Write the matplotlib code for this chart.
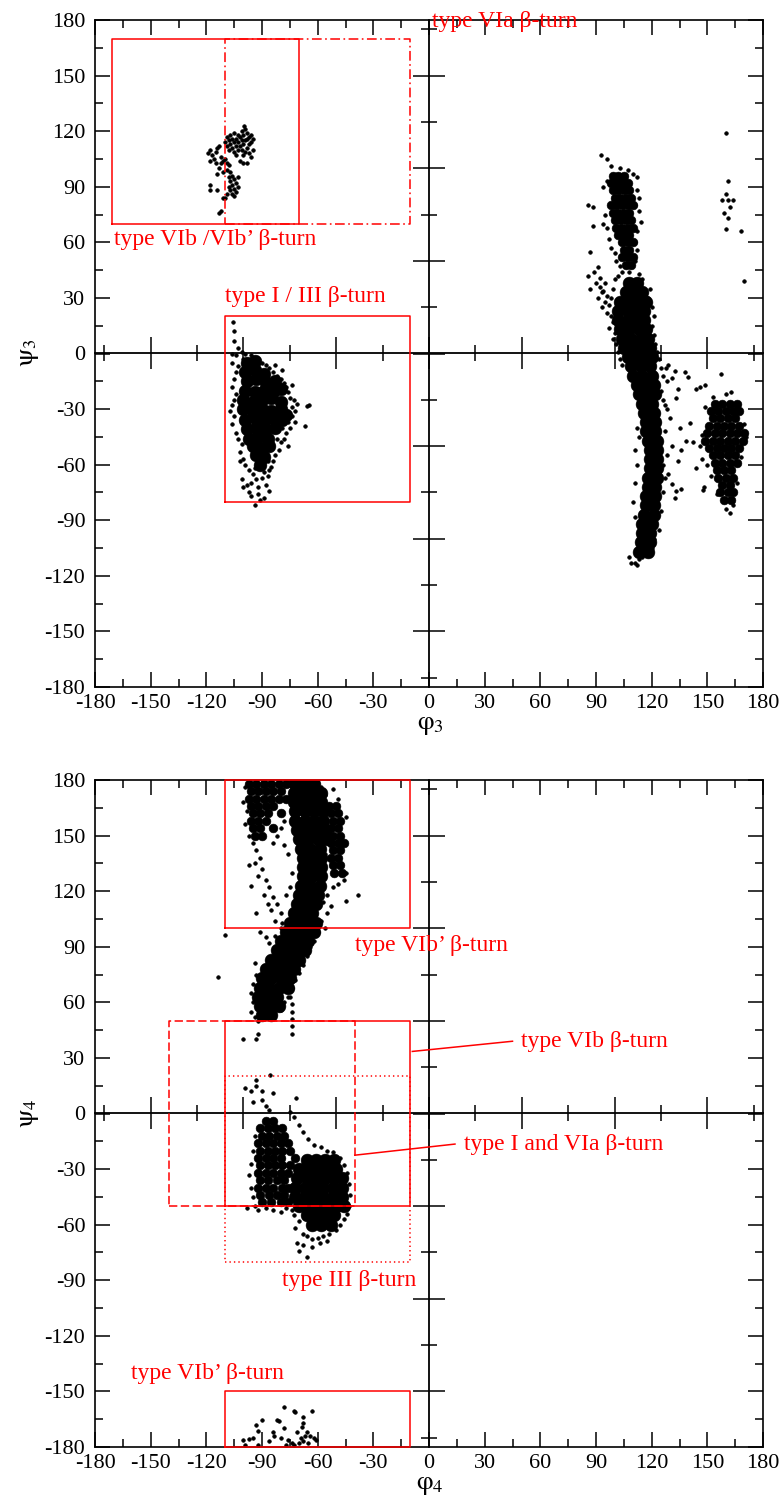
import numpy as np
import matplotlib
matplotlib.use("Agg")
import matplotlib.pyplot as plt
from matplotlib.ticker import MultipleLocator, NullFormatter

plt.rcParams['font.family'] = ['Liberation Serif', 'DejaVu Serif']
plt.rcParams['mathtext.fontset'] = 'custom'
plt.rcParams['mathtext.rm'] = 'STIXGeneral'
plt.rcParams['mathtext.it'] = 'STIXGeneral'
plt.rcParams['axes.unicode_minus'] = False
plt.rcParams['lines.scale_dashes'] = False

# ---------------- panel 1 : phi3 / psi3 ----------------
# VIb region, sparse dots
p1_vib = [(-109,117),(-107,118),(-105,119),(-103,118),(-101,120),(-99,121),(-99.5,123),(-98,119),(-97,117),(-96,118),
          (-95,116),(-110,114),(-108,115),(-106,116),(-104,116),(-102,117),(-100,118),(-98,116),(-96,114),(-109,112),
          (-107,113),(-105,114),(-103,114),(-101,115),(-99,115),(-97,113),(-108,110),(-106,111),(-104,112),(-102,112),
          (-100,113),(-98,111),(-105,109),(-103,110),(-101,110),(-99,109),(-104,107),(-100,107),(-118,110),(-119,108),
          (-117,107),(-115,109),(-114,111),(-113,112),(-116,105),(-118,104),(-115,103),(-112,106),(-112,103),(-113,100),
          (-111,104),(-110,105),(-109,103),(-108,102),(-114,97),(-111,98),(-97,108),(-96,106),(-100,103),(-98,103),
          (-102,104),(-95,110),(-109,99),(-107,98),(-106,96),(-108,95),(-105,94),(-107,93),(-104,92),(-106,91),
          (-108,90),(-105,89),(-107,88),(-104,87),(-106,86),(-109,86),(-110,84),(-111,84),(-105,85),(-103,90),
          (-103,95),(-118,91),(-118,88),(-114,88),(-113,76),(-112,77)]

# type I / III region
p1_i_core = [(-98,-5),(-94,-4),(-99,-10),(-94,-9),(-89,-11),(-98,-15),(-93,-14),(-88,-16),(-83,-15),
             (-99,-20),(-94,-21),(-89,-20),(-84,-21),(-80,-19),(-100,-25),(-95,-26),(-90,-25),(-85,-24),(-80,-26),
             (-100,-30),(-95,-31),(-90,-30),(-85,-31),(-80,-30),(-77,-33),(-99,-36),(-94,-35),(-89,-36),(-84,-35),
             (-79,-36),(-98,-41),(-93,-40),(-88,-41),(-83,-40),(-97,-46),(-92,-45),(-87,-46),(-95,-50),(-90,-51),
             (-86,-50),(-93,-55),(-89,-56),(-91,-60)]
p1_i_dots = [(-105.7,17),(-105.3,12),(-105.3,6.6),(-103,3),(-106,0),(-104,-1),(-101,1),(-99,0),(-100,-3),(-106,-5),
             (-96,-1),(-92,-3),(-90,-5),(-88,-6),(-86,-8),(-84,-10),(-82,-12),(-80,-14),(-78,-16),(-77,-18),
             (-76,-21),(-75,-24),(-73,-25),(-71,-27),(-74,-29),(-72,-31),(-64.7,-28),(-66,-28.5),(-74,-34),(-72,-37),
             (-67,-39),(-75,-40),(-77,-43),(-78,-46),(-80,-48),(-76,-50),(-81,-52),(-83,-55),(-84,-58),(-85,-61),
             (-86,-63),(-87,-66),(-89,-64),(-90,-67),(-93,-68),(-95,-65),(-96,-70),(-98,-71),(-100,-72),(-101,-68),
             (-92,-72),(-92,-76),(-89,-78),(-94,-82),(-86,-74),(-94,-62),(-97,-63),(-100,-57),(-102,-53),(-101,-49),
             (-103,-46),(-104,-43),(-106,-38),(-105,-34),(-107,-31),(-106,-28),(-105,-25),(-104,-22),(-106,-18),(-105,-14),
             (-104,-10),(-103,-7),(-97,-75),(-96,-77),(-91,-79),(-88,-71),(-87,-58),(-99,-60),(-102,-58),(-82,-46),
             (-79,-40),(-76,-37),(-74,-17),(-79,-9),(-83,-6)]

# right hand (positive phi) band
p1_via_mid = [(99,96),(102,96),(105,96),(98,92),(101,92),(104,92),(107,92),(99,88),(102,88),(105,88),(108,88),
              (100,84),(103,84),(106,84),(109,84),(98,80),(101,80),(104,80),(107,80),(110,80),(99,76),(102,76),
              (105,76),(108,76),(100,72),(103,72),(106,72),(109,72),(101,68),(104,68),(107,68),(110,68),(102,64),
              (105,64),(108,64),(104,60),(107,60),(110,60),(105,56),(108,56),(104,52),(107,52),(110,52),(106,48),(109,48)]
p1_band_core = [(108,38),(112,38),(106,33),(111,33),(115,33),(103,28),(108,28),(113,28),(117,28),(102,23),(107,23),
                (112,23),(116,23),(102,18),(107,18),(112,18),(116,18),(103,13),(108,13),(113,13),(117,13),(104,8),
                (109,8),(114,8),(118,8),(105,3),(110,3),(115,3),(119,3),(107,-2),(112,-2),(117,-2),(120,-2),
                (109,-7),(114,-7),(119,-7),(110,-12),(115,-12),(120,-12),(112,-17),(117,-17),(121,-17),(113,-22),
                (118,-22),(122,-22),(115,-27),(120,-27),(116,-32),(121,-32),(117,-37),(122,-37),(117,-42),(122,-42),
                (118,-47),(123,-47),(119,-52),(123,-52),(119,-57),(123,-57),(119,-62),(123,-62),(118,-67),(123,-67),
                (118,-72),(122,-72),(117,-77),(122,-77),(117,-82),(121,-82),(116,-87),(121,-87),(115,-92),(120,-92),
                (115,-97),(119,-97),(114,-102),(119,-102),(113,-107),(118,-107)]
p1_band_dots = [(92.7,106.9),(95.7,105),(98,101),(103,100),(107,99),(110,97),(112,95),(96,93),(94,90),(112,88),
                (113,84),(111,80),(85.7,79.9),(88.4,79),(88.4,69),(93.8,70),(86.6,55),(85.7,42),(91,46.7),(95,75),
                (96,68),(97,62),(113,77),(114,71),(112,66),(111,60),(98,57),(100,54),(101,50),(103,47),
                (112,56),(111,50),(89,44),(92,41),(95,38),(87,35),(93,33),(96,31),(90,38),(92,36),
                (94,34),(91,30),(95,28),(97,26),(93,25),(96,22),(98,20),(99,17),(97,14),(100,11),
                (99,8),(101,5),(102,1),(103,-3),(104,-6),(98,30),(99,35),(100,40),(102,42),(104,44),
                (108,44),(113,43),(115,40),(119,35),(118,30),(120,25),(121,20),(120,15),(121,10),(122,5),
                (123,1),(124,-3),(125,-8),(126,-12),(127.9,-7.6),(129,-6),(132.4,-9.3),(134.2,-18.9),(137.8,-9.9),(139.6,-12.5),
                (144,-18.9),(145.9,-18.1),(149,-17),(140.5,-37.7),(142.3,-47.5),(138.7,-47),(144,-62),(147.7,-73.6),(148,-72),(130.7,-70.6),
                (133.3,-74.2),(136,-73),(132.5,-77.8),(128,-30),(130,-35),(127,-42),(131,-50),(128,-55),(126,-60),(129,-65),
                (127,-28),(125,-20),(126,-25),(128,-15),(131,-13),(133,-24),(135,-40),(136,-52),(134,-58),(108,-110),
                (109,-113),(111,-113),(113,-111),(112,-114),(115,-110),(117,-108),(120,-105),(121,-100),(111,-88),(110,-80),
                (111,-70),(112,-60),(111,-52),(113,-45),(112,-40),(124,-95),(125,-85),(126,-75),(127,-67)]
p1_right_mid = [(154,-27),(158,-27),(162,-27),(166,-27),(152,-31),(156,-31),(160,-31),(164,-31),(167,-31),(153,-35),
                (157,-35),(161,-35),(165,-35),(151,-39),(155,-39),(159,-39),(163,-39),(167,-39),(150,-43),(154,-43),
                (158,-43),(162,-43),(166,-43),(170,-43),(149,-47),(153,-47),(157,-47),(161,-47),(165,-47),(169,-47),
                (151,-51),(155,-51),(159,-51),(163,-51),(167,-51),(153,-55),(157,-55),(161,-55),(165,-55),(154,-59),
                (158,-59),(162,-59),(166,-59),(155,-63),(159,-63),(163,-63),(156,-67),(160,-67),(164,-67),(158,-71),
                (162,-71),(157,-75),(161,-75),(164,-75),(159,-79),(163,-79)]
p1_right_dots = [(157.2,-10.8),(153,-23.5),(163,-20.8),(160,-22),(148.6,-28.8),(147,-44),(146,-50),(171,-45),(170,-38),
                 (168,-56),(150,-60),(152,-66),(155,-76),(166,-70),(162,-86),(160,-84),(164,-82),(147,-57),
                 (160,119),(161,93),(160,86),(158,83),(161,83),(164,83),(162,79),(159,76),(161,73),(160,67),
                 (168,66),(170,39)]

# ---------------- panel 2 : phi4 / psi4 ----------------
p2_up_core = [(-72,178),(-67,178),(-62,178),(-73,173),(-68,173),(-63,173),(-58,173),(-73,168),(-68,168),(-63,168),
              (-58,168),(-72,163),(-67,163),(-62,163),(-57,163),(-72,158),(-67,158),(-62,158),(-57,158),(-71,153),
              (-66,153),(-61,153),(-56,153),(-70,148),(-65,148),(-60,148),(-55,148),(-69,143),(-64,143),(-59,143),
              (-68,138),(-63,138),(-58,138),(-68,133),(-63,133),(-58,133),(-68,128),(-63,128),(-58,128),(-69,123),
              (-64,123),(-59,123),(-70,118),(-65,118),(-60,118),(-71,113),(-66,113),(-61,113),(-73,108),(-68,108),
              (-63,108),(-75,103),(-70,103),(-65,103),(-61,103),(-77,98),(-72,98),(-67,98),(-62,98),(-80,93),
              (-75,93),(-70,93),(-65,93),(-82,88),(-77,88),(-72,88),(-67,88),(-85,83),(-80,83),(-75,83),
              (-70,83),(-88,78),(-83,78),(-78,78),(-73,78),(-90,73),(-85,73),(-80,73),(-75,73),(-91,68),
              (-86,68),(-81,68),(-76,68),(-92,63),(-87,63),(-82,63),(-91,58),(-86,58),(-81,58),(-90,53),(-85,53)]
p2_up_mid = [(-97,178),(-93,178),(-89,178),(-85,178),(-81,178),(-77,178),(-96,174),(-92,174),(-88,174),(-84,174),
             (-80,174),(-97,170),(-93,170),(-89,170),(-85,170),(-81,170),(-77,170),(-96,166),(-92,166),(-88,166),
             (-84,166),(-95,162),(-91,162),(-87,162),(-80,162),(-96,158),(-92,158),(-88,158),(-95,154),(-91,154),
             (-84,154),(-94,150),(-90,150),
             (-54,166),(-50,166),(-53,162),(-49,162),(-52,158),(-48,158),(-53,154),(-49,154),(-52,150),(-48,150),
             (-53,146),(-49,146),(-46,146),(-52,142),(-48,142),(-53,138),(-49,138),(-52,134),(-48,134),(-51,130),(-47,130)]
p2_up_dots = [(-99,176),(-100,168),(-98,163),(-99,156),(-97,150),(-95,146),(-93,142),(-91,138),(-94,135),(-90,132),
              (-92,128),(-88,126),(-86,122),(-89,118),(-84,117),(-82,113),(-85,110),(-80,108),(-83,104),(-79,103),
              (-87,113),(-97,134),(-96,123),(-93,108),(-91,98),(-88,95),(-86,92),(-84,146),(-82,150),(-80,154),
              (-78,158),(-78,145),(-76,140),(-74,130),(-75,122),(-77,118),(-72,102),(-56,172),(-52,175),(-58,176),
              (-49,170),(-45,160),(-44.5,130),(-46,126),(-49,124),(-52,122),(-55,118),(-57,114),(-53,112),(-55,108),
              (-58,104),(-56,100),(-60,98),(-62,93),(-64,90),(-66,85),(-68,80),(-70,76),(-72,72),(-74,68),
              (-76,63),(-44.5,114.6),(-38.2,118.2),(-56,140),(-57,150),(-110,96.6),(-113.9,73.6),(-95,60),(-96,55),(-94,52),
              (-92,50),(-87,52),(-85,54),(-80,56),(-78,60),(-75,63),(-74,59),(-74,55),(-74,51),(-74,47),
              (-74,43),(-100,40),(-93,40),(-92,43),(-85.5,21),(-99.4,14),(-93,18),(-93,15),(-96,12),(-90,12),
              (-84,11),(-94,81),(-93,75),(-95,70),(-96,65),(-80,100),(-83,96)]
p2_i_core = [(-66,-25),(-61,-25),(-56,-25),(-51,-25),(-70,-30),(-65,-30),(-60,-30),(-55,-30),(-50,-30),(-71,-35),
             (-66,-35),(-61,-35),(-56,-35),(-51,-35),(-47,-35),(-72,-40),(-67,-40),(-62,-40),(-57,-40),(-52,-40),
             (-47,-40),(-72,-45),(-67,-45),(-62,-45),(-57,-45),(-52,-45),(-47,-45),(-70,-50),(-65,-50),(-60,-50),
             (-55,-50),(-50,-50),(-46,-50),(-66,-55),(-61,-55),(-56,-55),(-51,-55),(-63,-60),(-58,-60),(-53,-60)]
p2_i_mid = [(-88,-4),(-84,-4),(-91,-8),(-87,-8),(-83,-8),(-79,-8),(-90,-12),(-86,-12),(-82,-12),(-78,-12),
            (-92,-16),(-88,-16),(-84,-16),(-80,-16),(-76,-16),(-91,-20),(-87,-20),(-83,-20),(-79,-20),(-75,-20),
            (-92,-24),(-88,-24),(-84,-24),(-80,-24),(-72,-24),(-91,-28),(-87,-28),(-83,-28),(-79,-28),(-75,-28),
            (-92,-32),(-88,-32),(-84,-32),(-80,-32),(-76,-32),(-91,-36),(-87,-36),(-82,-36),(-78,-36),(-92,-40),
            (-88,-40),(-84,-40),(-79,-40),(-76,-40),(-91,-44),(-86,-44),(-82,-44),(-78,-44),(-90,-48),(-85,-48),
            (-80,-48),(-76,-48)]
p2_i_dots = [(-71.5,8.1),(-90,7.2),(-95,6),(-88,4),(-86,2),(-75,1),(-73,-2),(-70,-6),(-68,-10),(-65,-14),
             (-62,-17),(-58,-18),(-55,-20),(-52,-21),(-48,-24),(-46,-28),(-44,-32),(-43,-38),(-42.5,-44),(-43,-50),
             (-44,-54),(-46,-57),(-48,-60),(-50,-63),(-54,-65),(-57,-66),(-60,-67),(-63,-68),(-66,-66),(-68,-65),
             (-72,-62),(-70,-58),(-73,-55),(-74,-52),(-77,-51),(-94,-50),(-95,-45),(-96,-40),(-97,-33),(-96,-27),
             (-95,-20),(-94,-12),(-98,-51),(-92,-52),(-88,-51),(-84,-52),(-80,-53),(-66,-77.3),(-63,-72),(-68,-71),
             (-71,-70),(-59,-70),(-55,-69),(-70,-74)]
p2_vibp = [(-78.3,-158.5),(-72.9,-160.7),(-72,-161),(-63,-160.3),(-90,-165.3),(-93.5,-168.3),(-81.8,-165.3),(-81,-166),
           (-67.8,-164),(-68.3,-169.4),(-68,-167),(-91.9,-171.2),(-83.4,-173.9),(-100,-176),(-97,-175.5),(-95,-175),
           (-76,-176),(-66,-172),(-67,-174),(-69,-175),(-64,-174),(-62,-175),(-70,-178),(-74,-178),(-78,-170),
           (-80,-175),(-86,-177),(-92,-179),(-99,-179),(-84,-172),(-71,-172),(-73,-179),(-77,-179),(-65,-178),
           (-61,-176),(-68,-177)]

# turn regions (phi0, psi0, phi1, psi1)
p1_boxes_solid = [(-171, 70, -70, 170), (-110, -80, -10, 20)]
p1_boxes_dashdot = [(-110, 70, -10, 170)]
p2_boxes_solid = [(-110, 100, -10, 180), (-110, -50, -10, 50), (-110, -180, -10, -150)]
p2_boxes_dashed = [(-140, -50, -40, 50)]
p2_boxes_dotted = [(-110, -80, -10, 20)]

p1_labels = [("type VIa \u03b2-turn", 1.5, 179), ("type VIb /VIb\u2019 \u03b2-turn", -170, 61.4),
             ("type I / III \u03b2-turn", -110, 31)]
p2_labels = [("type VIb\u2019 \u03b2-turn", -40, 90.7), ("type VIb \u03b2-turn", 49.4, 39),
             ("type I and VIa \u03b2-turn", 18.7, -16.7), ("type III \u03b2-turn", -79.4, -90),
             ("type VIb\u2019 \u03b2-turn", -160.8, -140.4)]
p2_pointers = [((-9, 33.5), (45, 39)), ((-40, -22.5), (14, -16.5))]

RED = '#ff0000'
W, H = 783, 1501
S_DOT, S_MID, S_CORE = 7, 40, 85


def scatter(ax, pts, s):
    a = np.array(pts, dtype=float)
    ax.scatter(a[:, 0], a[:, 1], s=s, c='black', edgecolors='black', linewidths=0.4, zorder=2)


def boxes(ax, lst, ls):
    for x0, y0, x1, y1 in lst:
        ax.plot([x0, x1, x1, x0, x0], [y0, y0, y1, y1, y0], color=RED, lw=1.1,
                linestyle=ls, zorder=3, clip_on=False)


def setup(ax):
    ax.set_xlim(-180, 180)
    ax.set_ylim(-180, 180)
    ax.xaxis.set_major_locator(MultipleLocator(30))
    ax.xaxis.set_minor_locator(MultipleLocator(15))
    ax.yaxis.set_major_locator(MultipleLocator(30))
    ax.yaxis.set_minor_locator(MultipleLocator(15))
    ax.tick_params(which='both', direction='in', top=True, right=True, width=1.1, labelsize=16)
    ax.tick_params(which='major', length=11)
    ax.tick_params(which='minor', length=5.5)
    ax.tick_params(axis='x', pad=5)
    ax.tick_params(axis='y', pad=7)
    for sp in ax.spines.values():
        sp.set_linewidth(1.2)
    # zero axes through the origin
    sx = ax.secondary_xaxis(0.5)
    sy = ax.secondary_yaxis(0.5)
    for sa, axis in ((sx, sx.xaxis), (sy, sy.yaxis)):
        axis.set_major_locator(MultipleLocator(50))
        axis.set_minor_locator(MultipleLocator(25))
        axis.set_major_formatter(NullFormatter())
        axis.set_minor_formatter(NullFormatter())
        sa.tick_params(which='major', direction='inout', length=23, width=1.1)
        sa.tick_params(which='minor', direction='inout', length=11.5, width=1.1)
        for sp in sa.spines.values():
            sp.set_linewidth(1.3)


fig = plt.figure(figsize=(W / 100, H / 100), dpi=100)
ax1 = fig.add_axes([95 / W, (H - 687) / H, 668 / W, 667 / H])
ax2 = fig.add_axes([95 / W, (H - 1447) / H, 668 / W, 667 / H])

setup(ax1)
scatter(ax1, p1_vib, S_DOT)
scatter(ax1, p1_i_dots, S_DOT)
scatter(ax1, p1_i_core, S_CORE)
scatter(ax1, p1_via_mid, S_MID)
scatter(ax1, p1_band_core, S_CORE)
scatter(ax1, p1_band_dots, S_DOT)
scatter(ax1, p1_right_mid, S_MID)
scatter(ax1, p1_right_dots, S_DOT)
boxes(ax1, p1_boxes_solid, '-')
boxes(ax1, p1_boxes_dashdot, (0, (7, 2.5, 1.2, 2.5)))
for txt, x, y in p1_labels:
    ax1.text(x, y, txt, color=RED, fontsize=17, ha='left', va='center', zorder=4)

setup(ax2)
scatter(ax2, p2_up_core, S_CORE)
scatter(ax2, p2_up_mid, S_MID)
scatter(ax2, p2_up_dots, S_DOT)
scatter(ax2, p2_i_core, S_CORE)
scatter(ax2, p2_i_mid, S_MID)
scatter(ax2, p2_i_dots, S_DOT)
scatter(ax2, p2_vibp, S_DOT)
boxes(ax2, p2_boxes_solid, '-')
boxes(ax2, p2_boxes_dashed, (0, (6, 2.5)))
boxes(ax2, p2_boxes_dotted, (0, (1, 2.2)))
for txt, x, y in p2_labels:
    ax2.text(x, y, txt, color=RED, fontsize=17, ha='left', va='center', zorder=4)
for (xa, ya), (xb, yb) in p2_pointers:
    ax2.plot([xa, xb], [ya, yb], color=RED, lw=1.1, zorder=3)

# axis titles
fig.text(30 / W, 1 - 353 / H, r'$\psi_3$', fontsize=19, rotation=90, ha='center', va='center')
fig.text(430 / W, 1 - 726 / H, r'$\varphi_3$', fontsize=19, ha='center', va='center')
fig.text(30 / W, 1 - 1113 / H, r'$\psi_4$', fontsize=19, rotation=90, ha='center', va='center')
fig.text(430 / W, 1 - 1486 / H, r'$\varphi_4$', fontsize=19, ha='center', va='center')

fig.savefig('out.png', dpi=100)
